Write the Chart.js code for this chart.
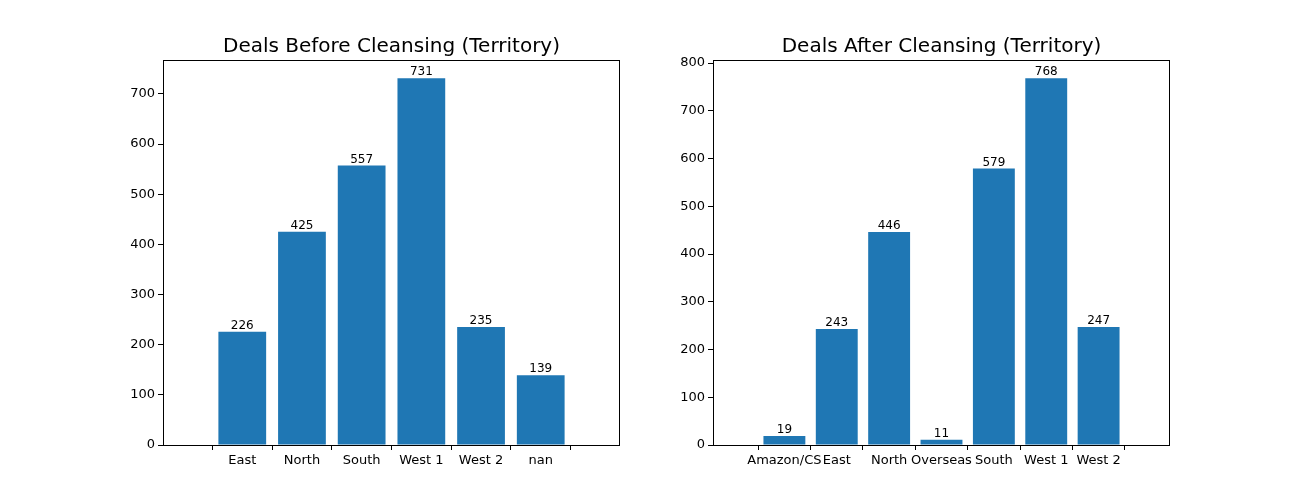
<!DOCTYPE html>
<html>
<head>
<meta charset="utf-8">
<script src="https://cdn.jsdelivr.net/npm/chart.js@4/dist/chart.umd.min.js"></script>
<style>
  body { margin: 0; background: #fff; width: 1300px; height: 500px; position: relative; overflow: hidden; }
  canvas { position: absolute; top: 0; }
</style>
</head>
<body>
<canvas id="beforeChart" style="left:100px" width="520" height="500"></canvas>
<canvas id="afterChart" style="left:650px" width="520" height="500"></canvas>
<script>
// Territory counts before cleansing
const beforeLabels = ["East", "North", "South", "West 1", "West 2", "nan"]
const beforeValues = [226, 425, 557, 731, 235, 139]

// Territory counts after cleansing
const afterLabels = ["Amazon/CS", "East", "North", "Overseas", "South", "West 1", "West 2"]
const afterValues = [19, 243, 446, 11, 579, 768, 247]

const yTicks = [0, 100, 200, 300, 400, 500, 600, 700, 800]
const barColor = "#1f77b4"
const font = "DejaVu Sans"

// draws the top/right frame, the title and the value labels
const extras = {
  id: "extras",
  afterDraw(chart, args, opts) {
    const { ctx, chartArea: a } = chart
    ctx.save()
    ctx.strokeStyle = "#000"
    ctx.lineWidth = 1
    ctx.strokeRect(a.left + 0.5, a.top + 0.5, a.right - a.left - 1, a.bottom - a.top)
    ctx.fillStyle = "#000"
    ctx.font = "20px '" + font + "'"
    ctx.textAlign = "center"
    ctx.textBaseline = "alphabetic"
    ctx.fillText(opts.title, (a.left + a.right) / 2, 52)
    ctx.font = "12px '" + font + "'"
    chart.getDatasetMeta(0).data.forEach((bar, i) => {
      ctx.fillText(chart.data.datasets[0].data[i].y, bar.x, bar.y - 3)
    })
    ctx.restore()
  },
}

function makeChart(id, labels, values, yMax, title) {
  const n = labels.length
  const margin = (n - 0.2) * 0.05
  new Chart(document.getElementById(id), {
    type: "bar",
    data: {
      datasets: [{
        data: values.map((v, i) => ({ x: i, y: v })),
        backgroundColor: barColor,
        categoryPercentage: 0.8,
        barPercentage: 1,
      }],
    },
    options: {
      responsive: false,
      animation: false,
      layout: { padding: { top: 60, right: 0, left: 0, bottom: 0 } },
      plugins: { legend: { display: false }, tooltip: { enabled: false }, extras: { title } },
      scales: {
        x: {
          type: "linear",
          min: -0.4 - margin,
          max: n - 0.6 + margin,
          afterBuildTicks: (s) => { s.ticks = labels.map((_, i) => ({ value: i })) },
          afterFit: (s) => { s.height = 55 },
          ticks: { callback: (v) => labels[v], color: "#000", font: { family: font, size: 13 }, maxRotation: 0, autoSkip: false },
          grid: { drawOnChartArea: false, tickLength: 5, color: "#000" },
          border: { color: "#000" },
        },
        y: {
          min: 0,
          max: yMax,
          afterBuildTicks: (s) => { s.ticks = yTicks.filter((t) => t <= yMax).map((t) => ({ value: t })) },
          afterFit: (s) => { s.width = 63 },
          ticks: { color: "#000", font: { family: font, size: 13 } },
          grid: { drawOnChartArea: false, tickLength: 5, color: "#000" },
          border: { color: "#000" },
        },
      },
    },
    plugins: [extras],
  })
}

makeChart("beforeChart", beforeLabels, beforeValues, 731 * 1.05, "Deals Before Cleansing (Territory)")
makeChart("afterChart", afterLabels, afterValues, 768 * 1.05, "Deals After Cleansing (Territory)")
</script>
</body>
</html>
